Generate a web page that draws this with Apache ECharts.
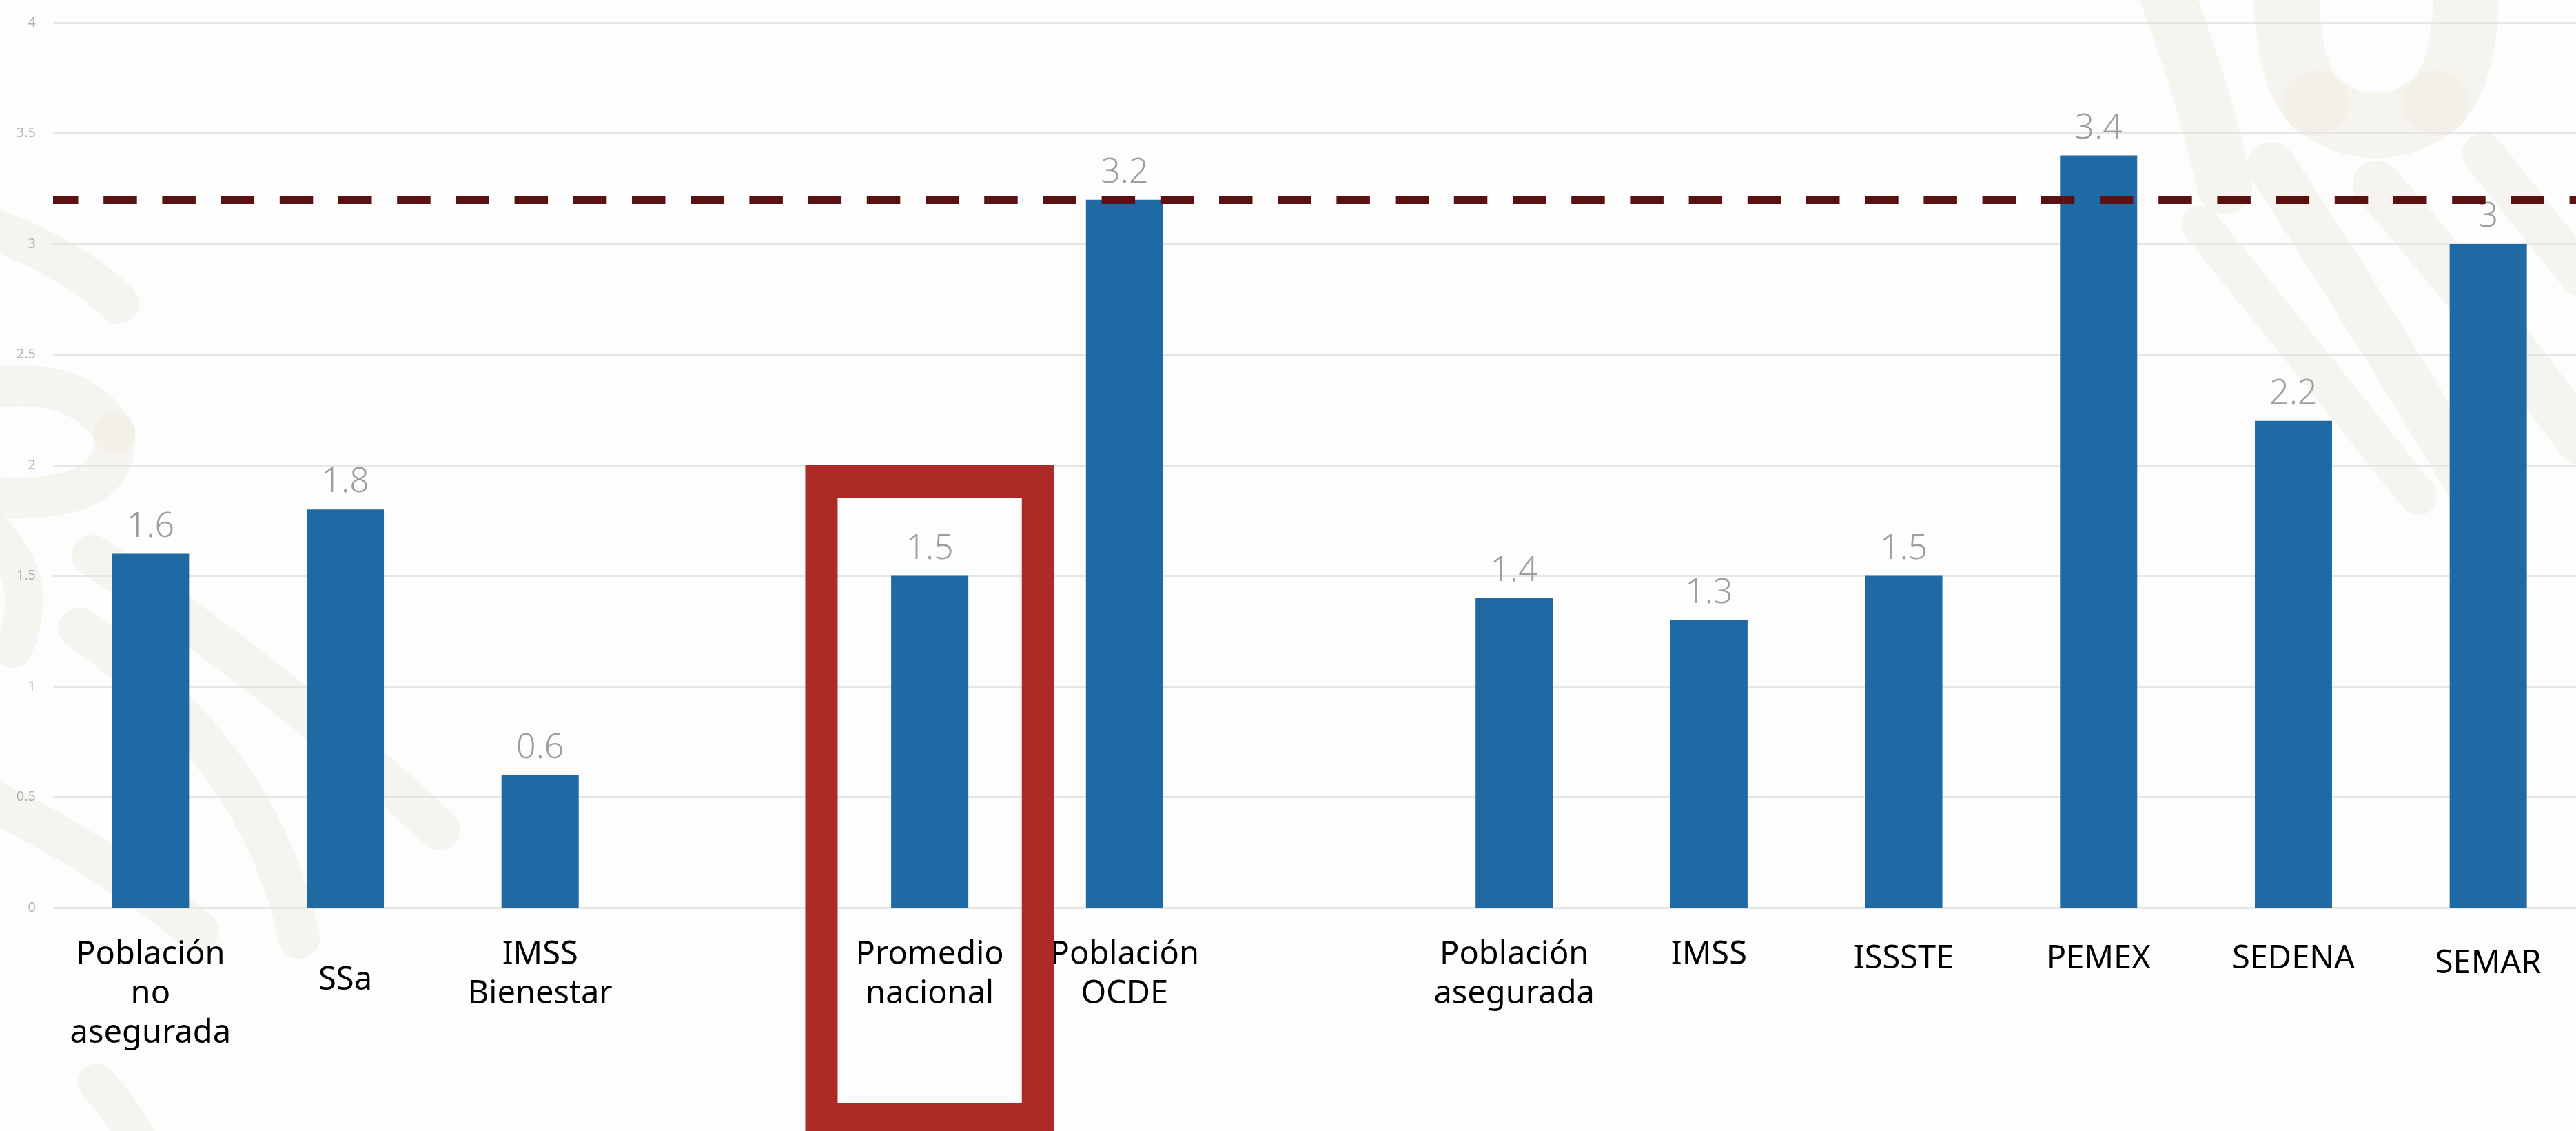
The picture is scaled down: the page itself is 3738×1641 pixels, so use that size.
<!DOCTYPE html>
<html>
<head>
<meta charset="utf-8">
<script src="https://cdn.jsdelivr.net/npm/echarts@6/dist/echarts.min.js"></script>
<style>
  html, body { margin: 0; padding: 0; background: #fdfdfd; overflow: hidden; }
  #chart { width: 3752px; height: 1641px; }
</style>
</head>
<body>
<div id="chart"></div>
<script>
// ---- data ----
const categories = ['Población\nno\nasegurada', 'SSa', 'IMSS\nBienestar', ' ', 'Promedio\nnacional', 'Población\nOCDE', '  ', 'Población\nasegurada', 'IMSS', 'ISSSTE', 'PEMEX', 'SEDENA', 'SEMAR'];
const values = [1.6, 1.8, 0.6, null, 1.5, 3.2, null, 1.4, 1.3, 1.5, 3.4, 2.2, 3.0];
const yTickLabels = ['0', '0.5', '1', '1.5', '2', '2.5', '3', '3.5', '4'];
const referenceValue = 3.2;          // OCDE reference (dashed line)
const highlightCategory = 'Promedio\nnacional';
const highlightTopValue = 2;

// ---- styles ----
const labelShift = { 'SSa': 37, 'ISSSTE': 6, 'PEMEX': 6, 'SEDENA': 6, 'SEMAR': 13 };
const FONT = '"Noto Sans", "Open Sans", sans-serif';

const chart = echarts.init(document.getElementById('chart'), null, { renderer: 'canvas' });

const xData = categories.map(c => labelShift[c] ? { value: c, textStyle: { padding: [labelShift[c], 0, 0, 0] } } : c);

// faint decorative background swirls (quadratic curves: x1,y1, cpx,cpy, x2,y2, width)
const swirlColor = '#f1ece1';
const swirls = [
  [3317, -20, 3320, 110, 3360, 150, 95], [3360, 150, 3447, 215, 3535, 150, 95], [3535, 150, 3580, 100, 3578, -20, 95],
  [3140, -20, 3200, 140, 3228, 270, 80],
  [3296, 241, 3440, 460, 3594, 720, 70],
  [3449, 268, 3600, 440, 3745, 640, 70],
  [3603, 223, 3680, 320, 3745, 400, 60],
  [3193, 326, 3350, 520, 3509, 720, 55],
  [-30, 325, 100, 370, 172, 440, 60],
  [-30, 565, 115, 540, 166, 628, 60], [166, 628, 175, 730, 0, 722, 60],
  [-20, 764, 64, 838, 19, 942, 55],
  [134, 806, 400, 980, 638, 1204, 60],
  [115, 911, 380, 1100, 434, 1361, 60],
  [-30, 1152, 150, 1240, 287, 1351, 60],
  [140, 1571, 170, 1600, 204, 1660, 55]
];

const option = {
  backgroundColor: '#fdfdfd',
  animation: false,
  textStyle: { fontFamily: FONT },
  grid: { left: 77, top: 33, right: 0, height: 1284, containLabel: false },
  xAxis: {
    type: 'category',
    data: xData,
    axisLine: { show: false },
    axisTick: { show: false },
    axisLabel: {
      interval: 0,
      margin: 40,
      fontSize: 47,
      lineHeight: 57,
      color: '#000000',
      fontFamily: FONT,
      align: 'center'
    },
    splitLine: { show: false }
  },
  yAxis: {
    type: 'value',
    min: 0,
    max: 4,
    interval: 0.5,
    axisLine: { show: false },
    axisTick: { show: false },
    axisLabel: {
      margin: 25,
      fontSize: 20,
      color: '#b4b4b4',
      fontFamily: FONT,
      formatter: (v) => yTickLabels[Math.round(v / 0.5)]
    },
    splitLine: { lineStyle: { color: '#e6e6e6', width: 3 } }
  },
  series: [{
    type: 'bar',
    data: values,
    barWidth: 112,
    itemStyle: { color: '#1f69a5' },
    label: {
      show: true,
      position: 'top',
      distance: 14,
      fontSize: 50,
      fontWeight: 300,
      color: '#9e9e9e',
      fontFamily: FONT
    },
    markLine: {
      silent: true,
      symbol: 'none',
      label: { show: false },
      lineStyle: { color: '#5b1111', width: 12, type: [48.5, 36.7], dashOffset: 12, opacity: 1 },
      emphasis: { disabled: true },
      data: [{ yAxis: referenceValue }]
    },
    z: 3
  }]
};

chart.setOption(option);

// highlight frame around "Promedio nacional", positioned through the axes
const cx = chart.convertToPixel({ xAxisIndex: 0 }, highlightCategory);
const band = chart.convertToPixel({ xAxisIndex: 0 }, categories[5]) - cx;
const topY = chart.convertToPixel({ yAxisIndex: 0 }, highlightTopValue);
const border = 47;
const outerHalf = band * 0.639;

const graphics = swirls.map(s => ({
  type: 'bezierCurve',
  z: -10,
  silent: true,
  shape: { x1: s[0], y1: s[1], cpx1: s[2], cpy1: s[3], x2: s[4], y2: s[5] },
  style: { fill: null, stroke: swirlColor, lineWidth: s[6], lineCap: 'round', opacity: 0.55 }
}));
graphics.push({
  type: 'rect',
  z: 10,
  silent: true,
  shape: {
    x: cx - outerHalf + border / 2,
    y: topY + border / 2,
    width: outerHalf * 2 - border,
    height: 1624 - (topY + border / 2)
  },
  style: { fill: null, stroke: '#ad2a26', lineWidth: border }
});

chart.setOption({ graphic: graphics });
</script>
</body>
</html>
